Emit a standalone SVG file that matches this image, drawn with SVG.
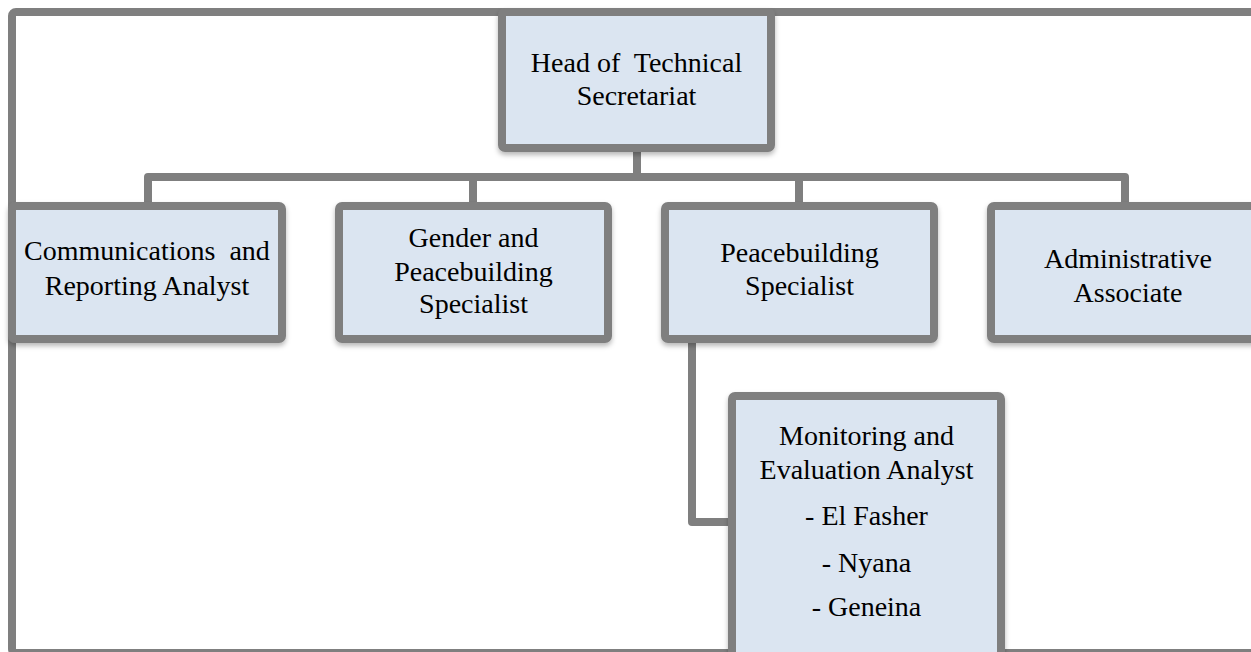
<svg xmlns="http://www.w3.org/2000/svg" width="1251" height="652" viewBox="0 0 1251 652">
  <defs>
    <filter id="sh" x="-10%" y="-10%" width="120%" height="130%">
      <feDropShadow dx="0" dy="3" stdDeviation="2.5" flood-color="#000" flood-opacity="0.28"/>
    </filter>
  </defs>
  <style>
    .frame { fill: none; stroke: #7f7f7f; stroke-width: 8; }
    .box { fill: #dbe5f1; stroke: #7f7f7f; stroke-width: 8; filter: url(#sh); }
    .conn { fill: none; stroke: #7f7f7f; stroke-width: 8; stroke-linejoin: round; }
    text { font-family: "Liberation Serif", "DejaVu Serif", serif; font-size: 28px; fill: #000; text-anchor: middle; white-space: pre; }
  </style>
  <rect class="frame" x="12" y="12" width="1262" height="641" rx="4"/>
  <g id="connectors">
    <path class="conn" d="M 637 148 V 177"/>
    <path class="conn" d="M 148 206 V 177 H 1125 V 206"/>
    <path class="conn" d="M 473 177 V 206"/>
    <path class="conn" d="M 799 177 V 206"/>
    <path class="conn" d="M 692 339 V 522 H 732"/>
  </g>
  <g id="head">
    <rect class="box" x="502" y="12" width="269" height="136" rx="3"/>
    <text x="636.5" y="72" xml:space="preserve">Head of  Technical</text>
    <text x="636.5" y="105">Secretariat</text>
  </g>
  <g id="communications">
    <rect class="box" x="12" y="206" width="270" height="133" rx="3"/>
    <text x="147" y="260" xml:space="preserve">Communications  and</text>
    <text x="147" y="295">Reporting Analyst</text>
  </g>
  <g id="gender">
    <rect class="box" x="339" y="206" width="269" height="133" rx="3"/>
    <text x="473.5" y="247">Gender and</text>
    <text x="473.5" y="281">Peacebuilding</text>
    <text x="473.5" y="313">Specialist</text>
  </g>
  <g id="peacebuilding">
    <rect class="box" x="665" y="206" width="269" height="133" rx="3"/>
    <text x="799.5" y="262">Peacebuilding</text>
    <text x="799.5" y="295">Specialist</text>
  </g>
  <g id="administrative">
    <rect class="box" x="991" y="206" width="269" height="133" rx="3"/>
    <text x="1128" y="268">Administrative</text>
    <text x="1128" y="302">Associate</text>
  </g>
  <g id="monitoring">
    <rect class="box" x="732" y="396" width="269" height="280" rx="3"/>
    <text x="866.5" y="445">Monitoring and</text>
    <text x="866.5" y="479">Evaluation Analyst</text>
    <text x="866.5" y="525">- El Fasher</text>
    <text x="866.5" y="572">- Nyana</text>
    <text x="866.5" y="616">- Geneina</text>
  </g>
</svg>
